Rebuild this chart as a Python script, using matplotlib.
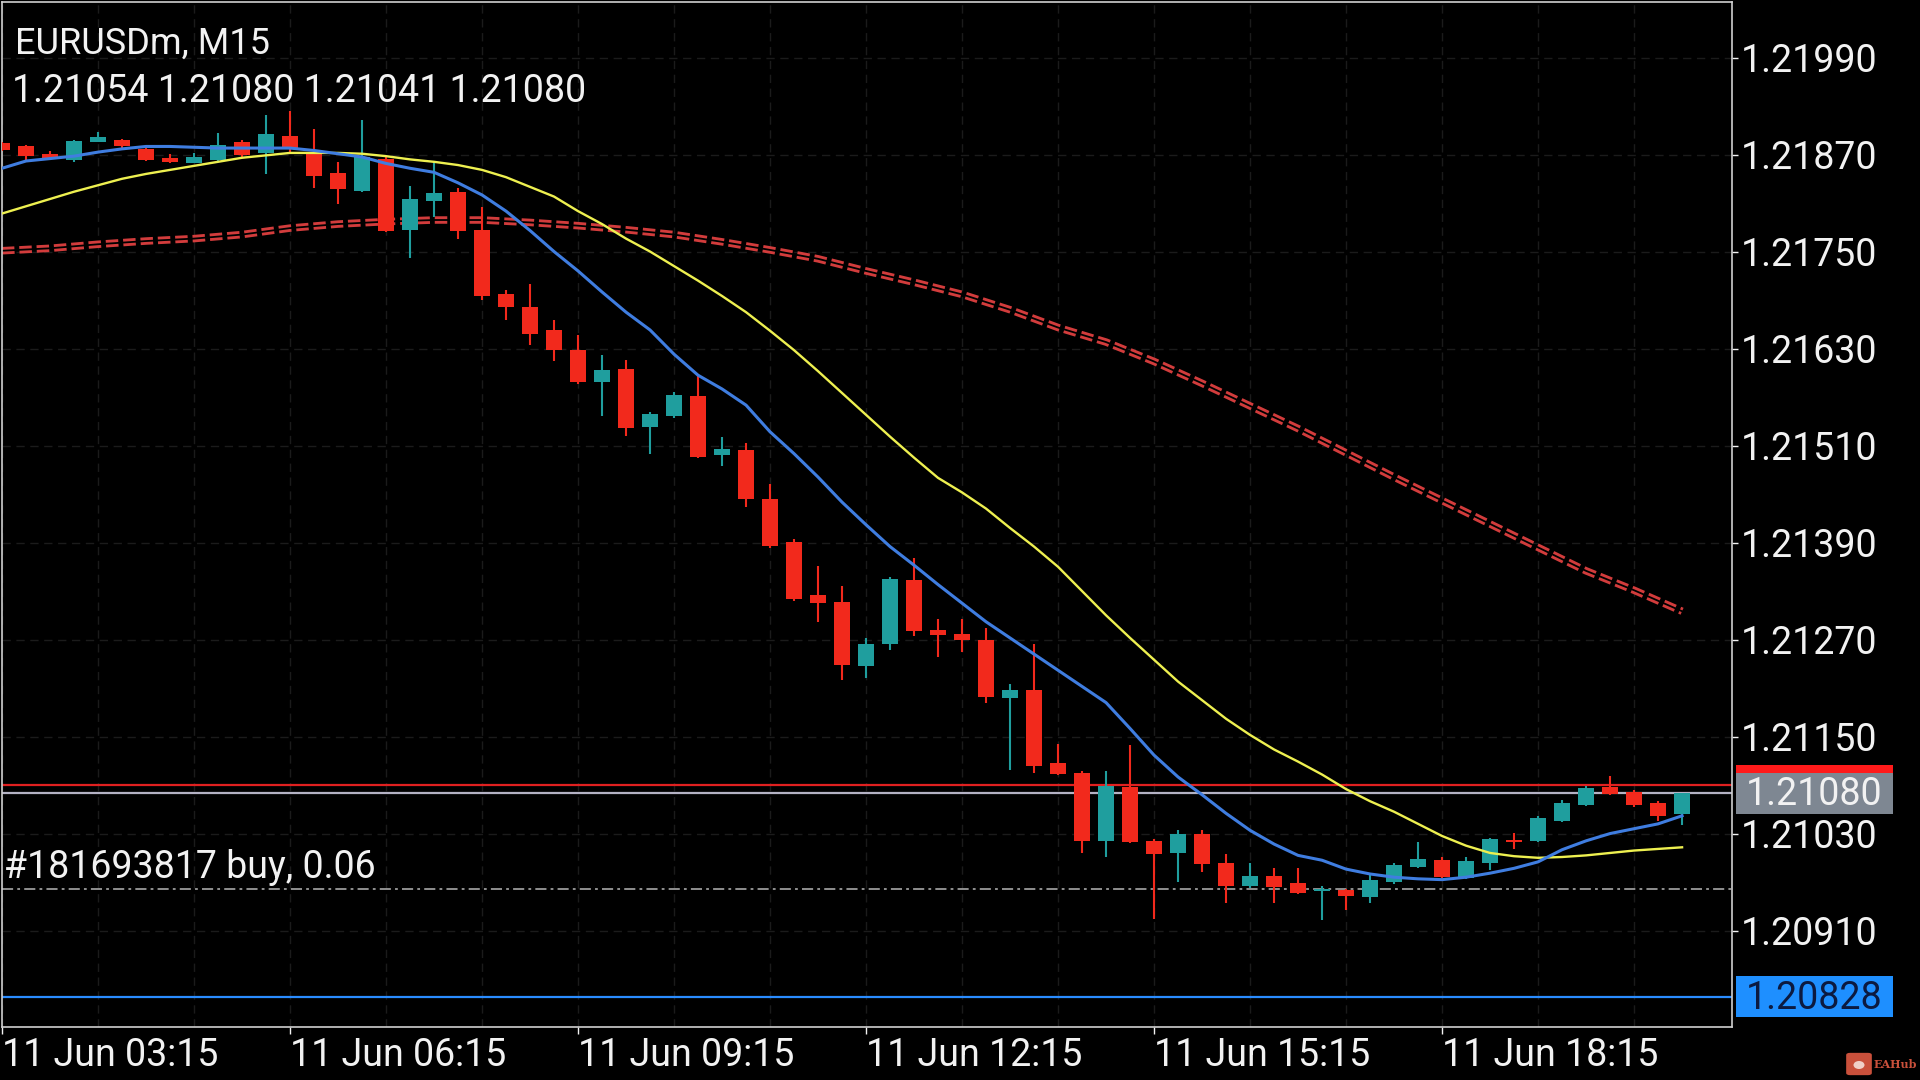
import matplotlib
matplotlib.use("Agg")
import matplotlib.pyplot as plt
import matplotlib.transforms as mtransforms
from matplotlib.patches import Rectangle, FancyBboxPatch, Ellipse

plt.rcParams['font.family'] = ['Roboto', 'DejaVu Sans']
plt.rcParams['lines.scale_dashes'] = False

# ---- data (EURUSDm, M15, bars from 11 Jun 03:15) ----
opens = [1.21884, 1.21881, 1.21871, 1.21863, 1.21886, 1.21888, 1.21877, 1.21866, 1.21860, 1.21863,
         1.21886, 1.21872, 1.21893, 1.21871, 1.21847, 1.21825, 1.21865, 1.21777, 1.21812, 1.21824,
         1.21777, 1.21697, 1.21682, 1.21653, 1.21628, 1.21588, 1.21605, 1.21533, 1.21546, 1.21571,
         1.21498, 1.21504, 1.21444, 1.21391, 1.21325, 1.21317, 1.21237, 1.21265, 1.21344, 1.21282,
         1.21277, 1.21269, 1.21198, 1.21208, 1.21117, 1.21105, 1.21021, 1.21088, 1.21021, 1.21006,
         1.21030, 1.20993, 1.20965, 1.20977, 1.20969, 1.20959, 1.20960, 1.20952, 1.20970, 1.20989,
         1.20997, 1.20975, 1.20993, 1.21022, 1.21021, 1.21045, 1.21065, 1.21087, 1.21081, 1.21068,
         1.21054]
highs = [1.21886, 1.21882, 1.21874, 1.21888, 1.21898, 1.21889, 1.21882, 1.21871, 1.21872, 1.21897,
         1.21888, 1.21919, 1.21924, 1.21902, 1.21861, 1.21913, 1.21868, 1.21831, 1.21861, 1.21828,
         1.21805, 1.21702, 1.21710, 1.21665, 1.21647, 1.21622, 1.21616, 1.21551, 1.21576, 1.21597,
         1.21521, 1.21513, 1.21462, 1.21395, 1.21361, 1.21336, 1.21272, 1.21347, 1.21371, 1.21296,
         1.21295, 1.21284, 1.21215, 1.21265, 1.21141, 1.21107, 1.21107, 1.21140, 1.21023, 1.21034,
         1.21034, 1.21005, 1.20994, 1.20988, 1.20987, 1.20965, 1.20962, 1.20979, 1.20994, 1.21019,
         1.21001, 1.21001, 1.21025, 1.21031, 1.21052, 1.21072, 1.21089, 1.21101, 1.21084, 1.21070,
         1.21080]
lows = [1.21874, 1.21863, 1.21863, 1.21861, 1.21885, 1.21877, 1.21862, 1.21860, 1.21859, 1.21862,
        1.21866, 1.21846, 1.21872, 1.21828, 1.21809, 1.21824, 1.21774, 1.21742, 1.21793, 1.21766,
        1.21690, 1.21665, 1.21634, 1.21614, 1.21586, 1.21547, 1.21522, 1.21500, 1.21544, 1.21495,
        1.21485, 1.21434, 1.21383, 1.21318, 1.21292, 1.21220, 1.21222, 1.21257, 1.21274, 1.21248,
        1.21255, 1.21191, 1.21109, 1.21105, 1.21102, 1.21006, 1.21001, 1.21018, 1.20924, 1.20970,
        1.20982, 1.20944, 1.20963, 1.20944, 1.20955, 1.20923, 1.20935, 1.20944, 1.20968, 1.20988,
        1.20975, 1.20974, 1.20985, 1.21011, 1.21020, 1.21044, 1.21064, 1.21078, 1.21063, 1.21045,
        1.21041]
closes = [1.21876, 1.21868, 1.21865, 1.21887, 1.21892, 1.21880, 1.21863, 1.21861, 1.21867, 1.21882,
          1.21869, 1.21895, 1.21878, 1.21843, 1.21827, 1.21867, 1.21776, 1.21815, 1.21823, 1.21776,
          1.21695, 1.21682, 1.21648, 1.21628, 1.21588, 1.21603, 1.21532, 1.21549, 1.21573, 1.21496,
          1.21506, 1.21444, 1.21386, 1.21320, 1.21315, 1.21239, 1.21265, 1.21345, 1.21280, 1.21276,
          1.21269, 1.21199, 1.21208, 1.21114, 1.21104, 1.21021, 1.21089, 1.21020, 1.21005, 1.21029,
          1.20992, 1.20965, 1.20978, 1.20964, 1.20957, 1.20962, 1.20953, 1.20973, 1.20991, 1.20999,
          1.20976, 1.20996, 1.21023, 1.21019, 1.21049, 1.21068, 1.21086, 1.21079, 1.21065, 1.21052,
          1.21080]

# moving averages
ma_fast = [1.21853, 1.21862, 1.21865, 1.21868, 1.21873, 1.21877, 1.21880, 1.21880, 1.21879, 1.21878,
           1.21878, 1.21878, 1.21878, 1.21875, 1.21871, 1.21867, 1.21859, 1.21853, 1.21848, 1.21835,
           1.21820, 1.21800, 1.21776, 1.21750, 1.21726, 1.21700, 1.21675, 1.21653, 1.21623, 1.21597,
           1.21580, 1.21560, 1.21527, 1.21500, 1.21471, 1.21440, 1.21412, 1.21385, 1.21362, 1.21338,
           1.21315, 1.21292, 1.21272, 1.21252, 1.21232, 1.21212, 1.21192, 1.21160, 1.21127, 1.21100,
           1.21078, 1.21055, 1.21034, 1.21017, 1.21003, 1.20997, 1.20986, 1.20980, 1.20976, 1.20974,
           1.20973, 1.20976, 1.20981, 1.20987, 1.20995, 1.21010, 1.21021, 1.21030, 1.21036, 1.21042,
           1.21052]
ma_mid = [1.21797, 1.21806, 1.21815, 1.21824, 1.21832, 1.21840, 1.21846, 1.21851, 1.21856, 1.21861,
          1.21866, 1.21869, 1.21872, 1.21872, 1.21872, 1.21871, 1.21868, 1.21864, 1.21861, 1.21857,
          1.21851, 1.21842, 1.21830, 1.21818, 1.21800, 1.21784, 1.21766, 1.21750, 1.21732, 1.21714,
          1.21695, 1.21675, 1.21652, 1.21628, 1.21602, 1.21575, 1.21548, 1.21521, 1.21495, 1.21470,
          1.21452, 1.21432, 1.21408, 1.21385, 1.21360, 1.21330, 1.21300, 1.21272, 1.21245, 1.21218,
          1.21195, 1.21172, 1.21152, 1.21134, 1.21119, 1.21103, 1.21085, 1.21070, 1.21057, 1.21042,
          1.21027, 1.21015, 1.21006, 1.21002, 1.21000, 1.21001, 1.21003, 1.21006, 1.21009, 1.21011,
          1.21013]
ma_slow_idx = list(range(0, 71, 2))
ma_slow = [1.21751, 1.21754, 1.21759, 1.21763, 1.21766, 1.21771, 1.21779, 1.21784, 1.21787, 1.21789,
           1.21789, 1.21786, 1.21782, 1.21777, 1.21771, 1.21762, 1.21752, 1.21741, 1.21726, 1.21712,
           1.21697, 1.21678, 1.21656, 1.21638, 1.21614, 1.21587, 1.21559, 1.21531, 1.21501, 1.21471,
           1.21442, 1.21413, 1.21384, 1.21355, 1.21331, 1.21305]

bid = 1.21080
ask = 1.21090
level_blue = 1.20828
order_price = 1.20961
order_text = "#181693817 buy, 0.06"

price_ticks = [1.21990, 1.21870, 1.21750, 1.21630, 1.21510, 1.21390, 1.21270, 1.21150, 1.21030, 1.20910]
time_tick_pos = [0, 12, 24, 36, 48, 60]
time_tick_lab = ["11 Jun 03:15", "11 Jun 06:15", "11 Jun 09:15",
                 "11 Jun 12:15", "11 Jun 15:15", "11 Jun 18:15"]

BULL = '#1f9e9e'
BEAR = '#f2291c'
FG = '#f2f2f2'
FS = 27

fig = plt.figure(figsize=(19.2, 10.8), dpi=100, facecolor='black')
ax = fig.add_axes([2 / 1920, 53 / 1080, 1730 / 1920, 1025 / 1080], facecolor='black')
ax.set_xlim(0, 72.08)
ax.set_ylim(1.207907, 1.220587)

# grid (very faint, dashed)
ax.set_xticks(range(0, 72, 4), minor=True)
ax.set_xticks(time_tick_pos)
ax.set_xticklabels(time_tick_lab)
ax.set_yticks(price_ticks)
ax.set_yticklabels([f"{p:.5f}" for p in price_ticks])
ax.grid(True, which='both', axis='x', color='#1b1b1b', linestyle=(0, (6, 4)), linewidth=1)
ax.grid(True, which='major', axis='y', color='#1b1b1b', linestyle=(0, (6, 4)), linewidth=1)
ax.set_axisbelow(True)

ax.yaxis.tick_right()
ax.tick_params(axis='y', which='major', colors=FG, labelsize=FS, length=4, width=1, pad=2)
ax.tick_params(axis='x', which='major', colors=FG, labelsize=FS, length=5, width=1, pad=2)
ax.tick_params(axis='x', which='minor', length=0)
for lab in ax.get_xticklabels():
    lab.set_horizontalalignment('left')
for s in ax.spines.values():
    s.set_color('#cfcfcf')
    s.set_linewidth(1.2)

# slow MA: thick red dash with a black core -> double dashed look
ax.plot(ma_slow_idx, ma_slow, color='#d23c3c', lw=5.4, dashes=(9, 3.5),
        dash_capstyle='butt', zorder=2)
ax.plot(ma_slow_idx, ma_slow, color='black', lw=1.3, zorder=2.1)

# horizontal levels
ax.axhline(ask, color='#e02020', lw=1.6, zorder=2.5)
ax.axhline(bid, color='#b4b2c4', lw=1.6, zorder=2.5)
ax.axhline(level_blue, color='#2a8cff', lw=1.6, zorder=2.5)
ax.axhline(order_price, color='#a8a8a8', lw=1.2, linestyle=(0, (8, 3, 2, 3)), zorder=2.5)

# candles
for i in range(len(opens)):
    o, h, l, c = opens[i], highs[i], lows[i], closes[i]
    col = BULL if c >= o else BEAR
    ax.vlines(i, l, h, color=col, lw=1.5, zorder=3)
    body = max(abs(c - o), 0.000012)
    ax.bar(i, body, bottom=min(o, c), width=0.66, color=col, linewidth=0, zorder=3)

ax.plot(range(len(ma_mid)), ma_mid, color='#eef050', lw=1.7, zorder=4)
ax.plot(range(len(ma_fast)), ma_fast, color='#3f7de0', lw=2.2, zorder=4)

# price labels on the right axis
tr = mtransforms.blended_transform_factory(ax.transAxes, ax.transData)
box_h = 41 * (ax.get_ylim()[1] - ax.get_ylim()[0]) / 1025
bx0, bx1 = 1.0023, 1.0931
for price, face, tcol, txt in [(ask, '#ff1a1a', '#ff1a1a', None),
                               (bid, '#7e8792', FG, f"{bid:.5f}"),
                               (level_blue, '#1e8fff', '#0c1a40', f"{level_blue:.5f}")]:
    ax.add_patch(Rectangle((bx0, price - box_h / 2), bx1 - bx0, box_h, transform=tr,
                           facecolor=face, edgecolor='none', clip_on=False, zorder=6))
    if txt:
        ax.text((bx0 + bx1) / 2, price - box_h * 0.04, txt, transform=tr, ha='center', va='center',
                fontsize=FS, color=tcol, clip_on=False, zorder=7)

# header and order text
fig.text(15 / 1920, 1 - 44 / 1080, "EURUSDm, M15", color=FG, fontsize=FS - 1, va='center', ha='left')
fig.text(12 / 1920, 1 - 92 / 1080,
         f"{opens[-1]:.5f} {highs[-1]:.5f} {lows[-1]:.5f} {closes[-1]:.5f}",
         color=FG, fontsize=FS, va='center', ha='left')
fig.text(4 / 1920, 1 - 868 / 1080, order_text, color=FG, fontsize=FS, va='center', ha='left')

# watermark
fig.patches.append(FancyBboxPatch((1850 / 1920, 1 - 1073 / 1080), 18 / 1920, 18 / 1080,
                                  boxstyle='round,pad=0.002', transform=fig.transFigure,
                                  facecolor='#c9503b', edgecolor='none'))
fig.patches.append(Ellipse((1859 / 1920, 1 - 1065 / 1080), 11 / 1920, 8 / 1080,
                           transform=fig.transFigure, facecolor='#f0d0c8', edgecolor='none'))
fig.text(1874 / 1920, 1 - 1065 / 1080, "EAHub", color='#c9503b', fontsize=8,
         family='DejaVu Serif', weight='bold', va='center', ha='left')

fig.savefig("out.png", dpi=100, facecolor='black')
